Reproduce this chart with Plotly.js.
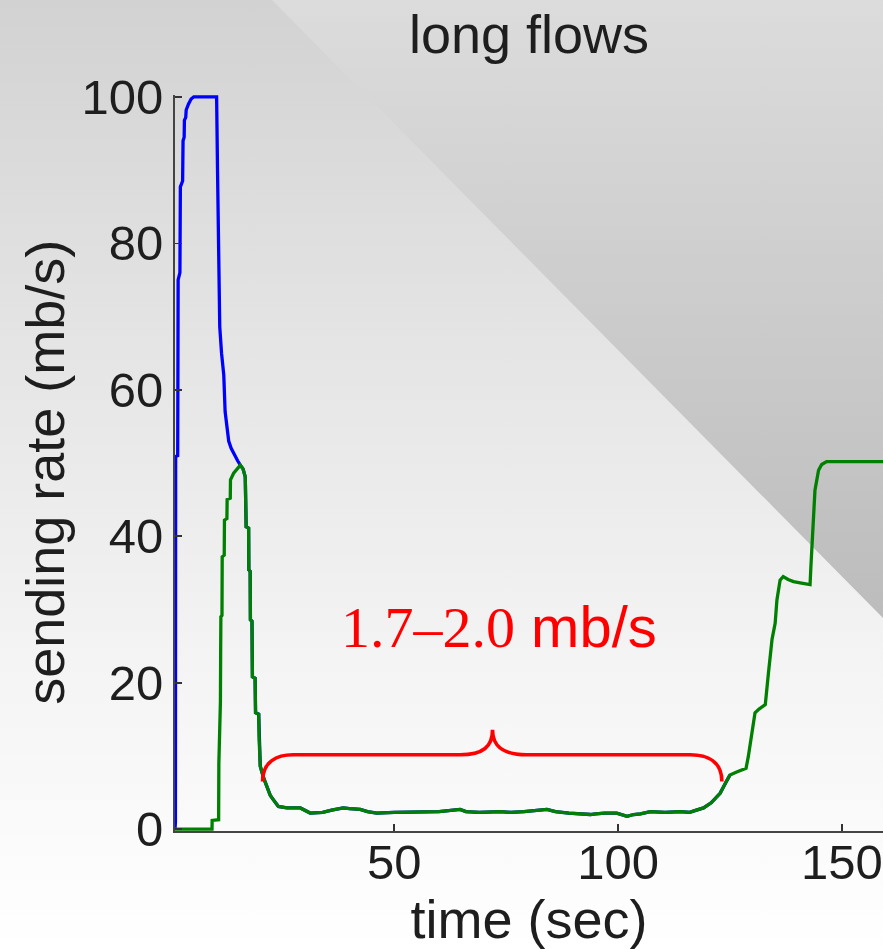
<!DOCTYPE html>
<html>
<head>
<meta charset="utf-8">
<script src="https://cdn.plot.ly/plotly-3.0.1.min.js"></script>
<style>
  html, body { margin:0; padding:0; background:#fff; }
  #wrap { position:relative; width:883px; height:949px; overflow:hidden;
          background: linear-gradient(to bottom, #d2d2d2 0%, #e4e4e4 35%, #f4f4f4 70%, #ffffff 100%); }
  #tri { position:absolute; left:0; top:0; width:883px; height:949px;
         clip-path: polygon(272px 0px, 883px 0px, 883px 618px);
         background: linear-gradient(to bottom, #dcdcdc 0px, #cfcfcf 250px, #bcbcbc 620px); }
  #chart { position:absolute; left:0; top:0; width:883px; height:949px; }
</style>
</head>
<body>
<div id="wrap"><div id="tri"></div><div id="chart"></div></div>
<script>
// ---- data ----
const blueTime = [1.0, 1.1, 1.15, 1.6, 1.65, 1.7, 2.1, 2.2, 2.7, 2.8, 3.05, 3.1, 3.4, 3.5, 4.0, 4.6, 5.2, 10.3,
  10.5, 10.7, 10.9, 11.0, 11.4, 11.9, 12.2, 12.55, 13.0, 13.55, 14.3, 15.0, 15.6,
  16.2, 16.7, 16.9, 17.45, 17.5, 17.8, 17.85, 18.2, 18.3, 18.9, 19.0,
  19.7, 19.8, 20.05, 20.8, 21.55, 22.3, 23.0, 24.1, 26, 29, 31.2, 34, 36, 38.6, 40, 42.4, 44, 46.1,
  50, 55, 60, 64.7, 66, 69, 73.7, 76, 79, 84.1, 86, 89, 93.8, 95, 97, 99.7, 102, 103.5, 105, 107.2, 110.5,
  113.9, 116, 117.5, 119.1, 120.8, 122.1, 122.8, 124.2, 125];
const blueRate = [0, 1, 50.9, 51, 62, 75, 76, 87.7, 88.5, 94, 94.5, 96.8, 97.2, 98.2, 99, 99.7, 100, 100,
  90, 80, 72, 68.6, 65, 62, 57, 55.4, 53, 52, 51, 50.3, 49.7,
  49.2, 48.1, 41.3, 41.1, 35.4, 35.2, 28.6, 28.4, 20.8, 20.6, 15.9,
  15.7, 12.2, 8.6, 7.0, 5.8, 4.6, 4.0, 3.1, 2.9, 2.9, 2.2, 2.3, 2.6, 2.9, 2.8, 2.7, 2.4, 2.2,
  2.3, 2.3, 2.4, 2.7, 2.4, 2.3, 2.4, 2.3, 2.4, 2.7, 2.4, 2.2, 2.0, 2.1, 2.2, 2.2, 1.75, 2.0, 2.1, 2.4, 2.3,
  2.4, 2.3, 2.6, 2.9, 3.6, 4.5, 4.9, 6.5, 7.4];

const greenTime = [1, 9.27, 9.3, 10.75, 10.8, 11.1, 11.15, 11.2, 11.25, 11.5, 11.55, 12.0, 12.05, 12.6, 12.65,
  13.35, 13.4, 14.1, 14.8, 15.6, 16.2, 16.7, 16.9, 17.45, 17.5, 17.8, 17.85, 18.2, 18.3, 18.9, 19.0,
  19.7, 19.8, 20.05, 20.8, 21.55, 22.3, 23.0, 24.1, 26, 29, 31.2, 34, 36, 38.6, 40, 42.4, 44, 46.1,
  50, 55, 60, 64.7, 66, 69, 73.7, 76, 79, 84.1, 86, 89, 93.8, 95, 97, 99.7, 102, 103.5, 105, 107.2, 110.5,
  113.9, 116, 117.5, 119.1, 120.8, 122.1, 122.8, 124.2, 125, 126.5, 128, 128.6, 129.1, 129.9, 130.6,
  131.5, 132.9, 133.6, 134.4, 135.1, 135.5, 136.2, 136.9, 138, 139.2, 141, 142.9, 143.1, 143.6, 144,
  144.8, 145.5, 146.6, 159.2];
const greenRate = [0, 0, 1.2, 1.3, 9, 17.2, 17.4, 24, 29.0, 29.2, 37.2, 37.4, 42.2, 42.4, 45.0,
  45.2, 47.7, 48.6, 49.2, 49.7, 49.2, 48.1, 41.3, 41.1, 35.4, 35.2, 28.6, 28.4, 20.8, 20.6, 15.9,
  15.7, 12.2, 8.6, 7.0, 5.8, 4.6, 4.0, 3.1, 2.9, 2.9, 2.2, 2.3, 2.6, 2.9, 2.8, 2.7, 2.4, 2.2,
  2.3, 2.3, 2.4, 2.7, 2.4, 2.3, 2.4, 2.3, 2.4, 2.7, 2.4, 2.2, 2.0, 2.1, 2.2, 2.2, 1.75, 2.0, 2.1, 2.4, 2.3,
  2.4, 2.3, 2.6, 2.9, 3.6, 4.5, 4.9, 6.5, 7.4, 7.8, 8.1, 8.3, 9.9, 13.1, 15.9,
  16.4, 17.0, 21.3, 25.9, 28.1, 31.3, 34.0, 34.5, 34.1, 33.8, 33.6, 33.4, 36, 41.8, 46.3,
  49.0, 49.8, 50.2, 50.2];

const xTickVals = [50, 100, 150];
const xTickText = ['50', '100', '150'];
const yTickVals = [0, 20, 40, 60, 80, 100];
const yTickText = ['0', '20', '40', '60', '80', '100'];

const chartTitle = 'long flows';
const xTitle = 'time (sec)';
const yTitle = 'sending rate (mb/s)';
const noteText = '<span style="font-family:\'Liberation Serif\', serif">1.7–2.0</span> mb/s';

// brace key points (data units): ends, flat level, peak
const braceLeft = 20.57, braceRight = 123.2, braceEndY = 6.52, braceFlatY = 10.16, bracePeakX = 71.95, bracePeakY = 13.57;

function bracePath() {
  const L = braceLeft, R = braceRight, P = bracePeakX;
  return `M ${L},${braceEndY} C ${L},9.25 23.8,${braceFlatY} 27.4,${braceFlatY} ` +
         `L 64.7,${braceFlatY} C 69.9,${braceFlatY} ${P},11.3 ${P},${bracePeakY} ` +
         `C ${P},11.3 74.2,${braceFlatY} 79.6,${braceFlatY} ` +
         `L 116.1,${braceFlatY} C 120.0,${braceFlatY} ${R},9.25 ${R},${braceEndY}`;
}

const txt = '#1e1e1e';
const sans = '"Liberation Sans", Arial, sans-serif';

const traces = [
  { x: blueTime, y: blueRate, mode: 'lines', line: { color: '#0000ff', width: 3.3 }, hoverinfo: 'skip' },
  { x: greenTime, y: greenRate, mode: 'lines', line: { color: '#008000', width: 3.3 }, hoverinfo: 'skip' }
];

const layout = {
  width: 883, height: 949,
  margin: { l: 175, r: 0, t: 95, b: 118 },
  paper_bgcolor: 'rgba(0,0,0,0)',
  plot_bgcolor: 'rgba(0,0,0,0)',
  showlegend: false,
  font: { family: sans, color: txt },
  title: { text: chartTitle, font: { family: sans, size: 54, color: txt },
           x: 0.5, xref: 'paper', xanchor: 'center', y: 0.964, yref: 'container', yanchor: 'middle' },
  xaxis: {
    range: [1, 159.2], tickvals: xTickVals, ticktext: xTickText,
    ticks: 'inside', ticklen: 7, tickwidth: 1.6, tickcolor: '#333',
    showline: true, linecolor: '#444', linewidth: 2, mirror: false,
    showgrid: false, zeroline: false,
    tickfont: { family: sans, size: 49, color: txt },
    ticklabelstandoff: -13,
    title: { text: xTitle, font: { family: sans, size: 54, color: txt }, standoff: 14 }
  },
  yaxis: {
    range: [-0.25, 100.25], tickvals: yTickVals, ticktext: yTickText,
    ticks: 'inside', ticklen: 7, tickwidth: 1.6, tickcolor: '#333',
    showline: true, linecolor: '#444', linewidth: 2, mirror: false,
    showgrid: false, zeroline: false,
    tickfont: { family: sans, size: 49, color: txt },
    ticklabelstandoff: 0
  },
  shapes: [
    { type: 'path', xref: 'x', yref: 'y', path: bracePath(), line: { color: '#ff0000', width: 3.6 } }
  ],
  annotations: [
    { x: 73.4, y: 27.6, xref: 'x', yref: 'y', text: noteText, showarrow: false,
      font: { family: sans, size: 58, color: '#ff0000' }, xanchor: 'center', yanchor: 'middle' },
    { x: -0.1836, y: 0.4866, xref: 'paper', yref: 'paper', text: yTitle, showarrow: false, textangle: -90,
      font: { family: sans, size: 54, color: txt }, xanchor: 'center', yanchor: 'middle' }
  ]
};

Plotly.newPlot('chart', traces, layout, { staticPlot: true, displayModeBar: false });
</script>
</body>
</html>
